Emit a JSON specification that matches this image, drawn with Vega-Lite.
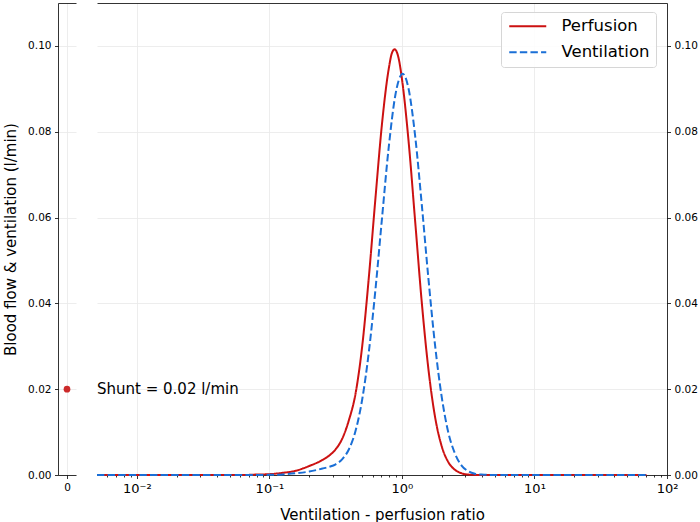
{
  "$schema": "https://vega.github.io/schema/vega-lite/v6.json",
  "padding": {"left": 3, "top": 3, "right": 0, "bottom": 5},
  "config": {
    "font": "DejaVu Sans",
    "view": {"stroke": null},
    "axis": {
      "domainColor": "#000", "tickColor": "#000", "labelColor": "#000", "titleColor": "#000",
      "labelFont": "DejaVu Sans", "titleFont": "DejaVu Sans",
      "labelFontSize": 10.5, "titleFontSize": 15, "titleFontWeight": "normal",
      "gridColor": "#e8e8e8", "gridWidth": 0.8, "tickSize": 3.5, "domainWidth": 0.8, "tickWidth": 0.8, "labelPadding": 3.5
    }
  },
  "datasets": {
    "curves": [
      {"ratio": 0.005, "flow": 0, "series": "Perfusion"},
      {"ratio": 0.0631, "flow": 0, "series": "Perfusion"},
      {"ratio": 0.0794, "flow": 0.0001, "series": "Perfusion"},
      {"ratio": 0.1, "flow": 0.0002, "series": "Perfusion"},
      {"ratio": 0.1259, "flow": 0.0005, "series": "Perfusion"},
      {"ratio": 0.1585, "flow": 0.001, "series": "Perfusion"},
      {"ratio": 0.1995, "flow": 0.0021, "series": "Perfusion"},
      {"ratio": 0.2512, "flow": 0.0035, "series": "Perfusion"},
      {"ratio": 0.2818, "flow": 0.0045, "series": "Perfusion"},
      {"ratio": 0.3162, "flow": 0.006, "series": "Perfusion"},
      {"ratio": 0.3548, "flow": 0.0085, "series": "Perfusion"},
      {"ratio": 0.3981, "flow": 0.0128, "series": "Perfusion"},
      {"ratio": 0.4467, "flow": 0.019, "series": "Perfusion"},
      {"ratio": 0.5012, "flow": 0.030, "series": "Perfusion"},
      {"ratio": 0.5623, "flow": 0.046, "series": "Perfusion"},
      {"ratio": 0.631, "flow": 0.0645, "series": "Perfusion"},
      {"ratio": 0.7079, "flow": 0.082, "series": "Perfusion"},
      {"ratio": 0.7943, "flow": 0.0946, "series": "Perfusion"},
      {"ratio": 0.8414, "flow": 0.0984, "series": "Perfusion"},
      {"ratio": 0.881, "flow": 0.0992, "series": "Perfusion"},
      {"ratio": 0.9441, "flow": 0.0971, "series": "Perfusion"},
      {"ratio": 1.0, "flow": 0.0923, "series": "Perfusion"},
      {"ratio": 1.122, "flow": 0.0778, "series": "Perfusion"},
      {"ratio": 1.2589, "flow": 0.059, "series": "Perfusion"},
      {"ratio": 1.4125, "flow": 0.0401, "series": "Perfusion"},
      {"ratio": 1.5849, "flow": 0.0246, "series": "Perfusion"},
      {"ratio": 1.7783, "flow": 0.0135, "series": "Perfusion"},
      {"ratio": 1.9953, "flow": 0.0067, "series": "Perfusion"},
      {"ratio": 2.2387, "flow": 0.003, "series": "Perfusion"},
      {"ratio": 2.5119, "flow": 0.0012, "series": "Perfusion"},
      {"ratio": 2.8184, "flow": 0.0004, "series": "Perfusion"},
      {"ratio": 3.1623, "flow": 0.0001, "series": "Perfusion"},
      {"ratio": 3.981, "flow": 0, "series": "Perfusion"},
      {"ratio": 70, "flow": 0, "series": "Perfusion"},
      {"ratio": 0.005, "flow": 0, "series": "Ventilation"},
      {"ratio": 0.0794, "flow": 0, "series": "Ventilation"},
      {"ratio": 0.1, "flow": 0.00004, "series": "Ventilation"},
      {"ratio": 0.1259, "flow": 0.00014, "series": "Ventilation"},
      {"ratio": 0.1585, "flow": 0.0004, "series": "Ventilation"},
      {"ratio": 0.1995, "flow": 0.0008, "series": "Ventilation"},
      {"ratio": 0.2512, "flow": 0.0015, "series": "Ventilation"},
      {"ratio": 0.2818, "flow": 0.0019, "series": "Ventilation"},
      {"ratio": 0.3162, "flow": 0.0025, "series": "Ventilation"},
      {"ratio": 0.3548, "flow": 0.0037, "series": "Ventilation"},
      {"ratio": 0.3981, "flow": 0.006, "series": "Ventilation"},
      {"ratio": 0.4467, "flow": 0.0103, "series": "Ventilation"},
      {"ratio": 0.5012, "flow": 0.0176, "series": "Ventilation"},
      {"ratio": 0.5623, "flow": 0.0286, "series": "Ventilation"},
      {"ratio": 0.631, "flow": 0.0432, "series": "Ventilation"},
      {"ratio": 0.7079, "flow": 0.06, "series": "Ventilation"},
      {"ratio": 0.7943, "flow": 0.0763, "series": "Ventilation"},
      {"ratio": 0.8913, "flow": 0.0885, "series": "Ventilation"},
      {"ratio": 0.9441, "flow": 0.0919, "series": "Ventilation"},
      {"ratio": 1.0116, "flow": 0.0935, "series": "Ventilation"},
      {"ratio": 1.0593, "flow": 0.0928, "series": "Ventilation"},
      {"ratio": 1.122, "flow": 0.09, "series": "Ventilation"},
      {"ratio": 1.2589, "flow": 0.0789, "series": "Ventilation"},
      {"ratio": 1.4125, "flow": 0.0629, "series": "Ventilation"},
      {"ratio": 1.5849, "flow": 0.0457, "series": "Ventilation"},
      {"ratio": 1.7783, "flow": 0.0302, "series": "Ventilation"},
      {"ratio": 1.9953, "flow": 0.0182, "series": "Ventilation"},
      {"ratio": 2.2387, "flow": 0.0099, "series": "Ventilation"},
      {"ratio": 2.5119, "flow": 0.005, "series": "Ventilation"},
      {"ratio": 2.8184, "flow": 0.0022, "series": "Ventilation"},
      {"ratio": 3.1623, "flow": 0.0009, "series": "Ventilation"},
      {"ratio": 3.5481, "flow": 0.0003, "series": "Ventilation"},
      {"ratio": 3.981, "flow": 0.0001, "series": "Ventilation"},
      {"ratio": 5.012, "flow": 0, "series": "Ventilation"},
      {"ratio": 70, "flow": 0, "series": "Ventilation"}
    ],
    "shunt": [{"x": 0, "flow": 0.02}],
    "label": [{"ratio": 0.005, "flow": 0.02, "text": "Shunt = 0.02 l/min"}]
  },
  "spacing": 17,
  "hconcat": [
    {
      "width": 18,
      "height": 472,
      "data": {"name": "shunt"},
      "layer": [
        {
          "mark": {"type": "circle", "size": 45, "color": "#cc2a2a", "opacity": 1},
          "encoding": {
            "x": {"field": "x", "type": "quantitative", "scale": {"domain": [-1, 1], "nice": false},
                  "axis": {"orient": "bottom", "values": [0], "format": "d", "title": null, "grid": true}},
            "y": {"field": "flow", "type": "quantitative", "scale": {"domain": [0, 0.11], "nice": false},
                  "axis": {"orient": "left", "values": [0, 0.02, 0.04, 0.06, 0.08, 0.1], "format": ".2f",
                           "title": "Blood flow & ventilation (l/min)", "grid": true, "titlePadding": 9}}
          }
        },
        {
          "mark": {"type": "circle", "opacity": 0},
          "encoding": {
            "x": {"field": "x", "type": "quantitative",
                  "axis": {"orient": "top", "labels": false, "ticks": false, "grid": false, "title": null}},
            "y": {"field": "flow", "type": "quantitative"}
          }
        }
      ]
    },
    {
      "width": 570,
      "height": 472,
      "layer": [
        {
          "data": {"name": "curves"},
          "mark": {"type": "line", "strokeWidth": 2, "interpolate": "monotone"},
          "encoding": {
            "x": {"field": "ratio", "type": "quantitative",
                  "scale": {"type": "log", "domain": [0.005, 100], "nice": false},
                  "axis": {
                    "orient": "bottom",
                    "title": "Ventilation - perfusion ratio",
                    "titlePadding": 12,
                    "labelFontSize": 13,
                    "values": [0.006, 0.007, 0.008, 0.009, 0.01, 0.02, 0.03, 0.04, 0.05, 0.06, 0.07, 0.08, 0.09, 0.1, 0.2, 0.3, 0.4, 0.5, 0.6, 0.7, 0.8, 0.9, 1, 2, 3, 4, 5, 6, 7, 8, 9, 10, 20, 30, 40, 50, 60, 70, 80, 90, 100],
                    "labelExpr": "datum.value == 0.01 ? '10⁻²' : datum.value == 0.1 ? '10⁻¹' : datum.value == 1 ? '10⁰' : datum.value == 10 ? '10¹' : datum.value == 100 ? '10²' : ''",
                    "labelOverlap": false,
                    "labelBound": false,
                    "labelFlush": false,
                    "grid": true,
                    "gridOpacity": {"condition": {"test": "indexof([0.01, 0.1, 1, 10, 100], datum.value) >= 0", "value": 1}, "value": 0},
                    "tickSize": {"condition": {"test": "indexof([0.01, 0.1, 1, 10, 100], datum.value) >= 0", "value": 3.5}, "value": 2}
                  }},
            "y": {"field": "flow", "type": "quantitative", "scale": {"domain": [0, 0.11], "nice": false},
                  "axis": {"orient": "right", "values": [0, 0.02, 0.04, 0.06, 0.08, 0.1], "format": ".2f", "title": null, "grid": true}},
            "color": {"field": "series", "type": "nominal",
                      "scale": {"domain": ["Perfusion", "Ventilation"], "range": ["#cc1111", "#1a6fd6"]},
                      "legend": {"orient": "none", "legendX": 443, "legendY": 9, "title": null,
                                 "labelFontSize": 16.5, "labelFont": "DejaVu Sans", "labelColor": "#000",
                                 "symbolType": "M-1.2,0H6.2", "symbolSize": 100, "symbolStrokeWidth": 2,
                                 "labelOffset": 38, "rowPadding": 9, "padding": 6,
                                 "strokeColor": "#d6d6d6", "cornerRadius": 3, "fillColor": "rgba(255,255,255,0.85)"}},
            "strokeDash": {"field": "series", "type": "nominal",
                           "scale": {"domain": ["Perfusion", "Ventilation"], "range": [[1, 0], [7.4, 3.2]]},
                           "legend": {"orient": "none", "legendX": 443, "legendY": 9, "title": null,
                                      "labelFontSize": 16.5, "labelFont": "DejaVu Sans", "labelColor": "#000",
                                      "symbolType": "M-1.2,0H6.2", "symbolSize": 100, "symbolStrokeWidth": 2,
                                      "labelOffset": 38, "rowPadding": 9, "padding": 6,
                                      "strokeColor": "#d6d6d6", "cornerRadius": 3, "fillColor": "rgba(255,255,255,0.85)"}}
          }
        },
        {
          "data": {"name": "label"},
          "mark": {"type": "text", "align": "left", "baseline": "middle", "fontSize": 15, "font": "DejaVu Sans", "color": "#000"},
          "encoding": {
            "x": {"field": "ratio", "type": "quantitative",
                  "axis": {"orient": "top", "labels": false, "ticks": false, "grid": false, "title": null}},
            "y": {"field": "flow", "type": "quantitative"},
            "text": {"field": "text"}
          }
        }
      ]
    }
  ]
}
